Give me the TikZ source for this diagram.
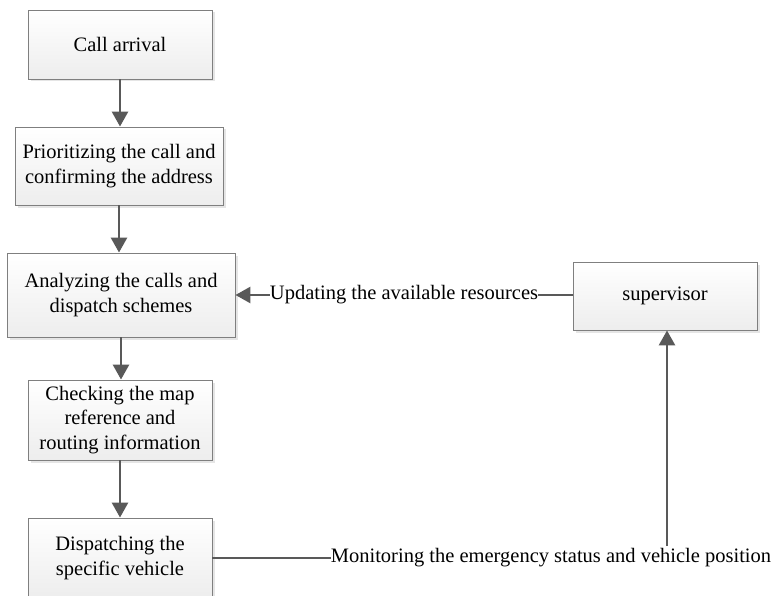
\documentclass[tikz,border=0pt]{standalone}
\usepackage{fontspec}
\setmainfont{Liberation Serif}
\usetikzlibrary{arrows.meta,shadows}
\definecolor{linegray}{HTML}{595959}
\definecolor{boxborder}{HTML}{7F7F7F}
\begin{document}
\begin{tikzpicture}[x=1pt,y=-1pt,
  box/.style={draw=boxborder, line width=0.9pt, top color=white, bottom color=black!7,
    general shadow={fill=black!10, shadow xshift=2.5pt, shadow yshift=-2.5pt},
    rectangle, align=center, inner sep=0pt, font=\fontsize{20.5}{24.5}\selectfont},
  lbl/.style={inner sep=0pt, font=\fontsize{20.5}{24.5}\selectfont},
  conn/.style={draw=linegray, line width=2.8pt},
  arr/.style={conn, -{Triangle[length=15pt,width=16pt]}}]
\useasboundingbox (0,0) rectangle (773,596);
\node[box, minimum width=184pt, minimum height=69pt] (b1) at (120,44.5) {Call arrival};
\node[box, minimum width=208pt, minimum height=78pt] (b2) at (119,166) {Prioritizing the call and\\confirming the address};
\node[box, minimum width=228pt, minimum height=84pt] (b3) at (121,295) {Analyzing the calls and\\dispatch schemes};
\node[box, minimum width=184pt, minimum height=80pt] (b4) at (120,420) {Checking the map\\reference and\\routing information};
\node[box, minimum width=184pt, minimum height=80pt] (b5) at (120,558) {Dispatching the\\specific vehicle};
\node[box, minimum width=184pt, minimum height=68pt] (sup) at (665,296) {supervisor};
\node[lbl] (upd) at (404,295) {Updating the available resources};
\node[lbl] (mon) at (551,558) {Monitoring the emergency status and vehicle position};
\coordinate (mtop) at (667,546);
\draw[arr] (b1.south) -- (b1.south |- b2.north);
\draw[arr] (b2.south) -- (b2.south |- b3.north);
\draw[arr] (b3.south) -- (b3.south |- b4.north);
\draw[arr] (b4.south) -- (b4.south |- b5.north);
\draw[conn] (sup.west |- upd.east) -- (upd.east);
\draw[arr] (upd.west) -- (b3.east |- upd.west);
\draw[conn] (b5.east |- mon.west) -- (mon.west);
\draw[arr] (mtop) -- (mtop |- sup.south);
\end{tikzpicture}
\end{document}
